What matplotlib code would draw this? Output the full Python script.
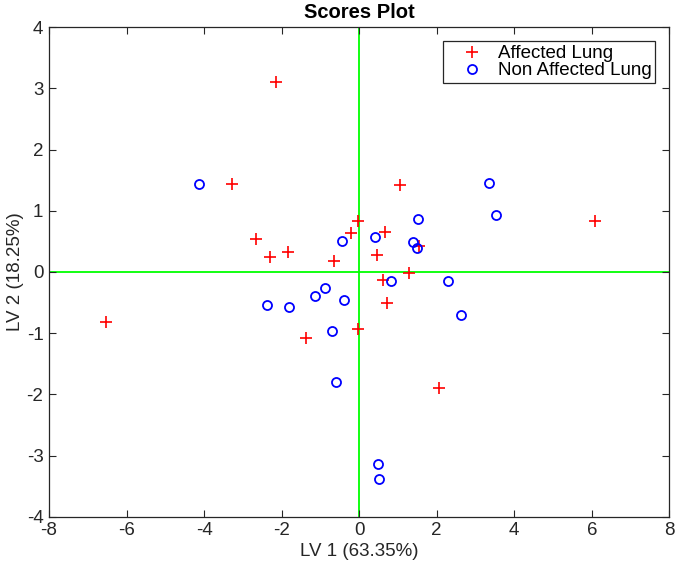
import matplotlib
matplotlib.use("Agg")
import matplotlib.pyplot as plt

plt.rcParams['font.family'] = ['Liberation Sans', 'DejaVu Sans']

affected_x = [-2.14, -3.27, -2.65, -2.31, -1.84, -0.66, -0.20, -0.04, 1.06, 6.07,
              0.67, 1.54, 0.45, 1.29, 0.61, 0.71, -0.03, 2.05, -6.54, -1.36]
affected_y = [3.10, 1.435, 0.547, 0.25, 0.33, 0.18, 0.63, 0.83, 1.42, 0.835,
              0.65, 0.42, 0.27, -0.01, -0.125, -0.50, -0.94, -1.90, -0.81, -1.08]

non_x = [-4.12, -0.44, 3.36, 3.54, 0.40, 1.51, 1.40, 1.48, 0.81, 2.28,
         -0.40, 2.62, 0.49, 0.52, -2.39, -1.80, -0.89, -1.13, -0.70, -0.61]
non_y = [1.44, 0.51, 1.46, 0.93, 0.58, 0.86, 0.486, 0.39, -0.15, -0.15,
         -0.45, -0.71, -3.14, -3.39, -0.545, -0.57, -0.26, -0.40, -0.965, -1.805]

x_ticks = [-8, -6, -4, -2, 0, 2, 4, 6, 8]
y_ticks = [-4, -3, -2, -1, 0, 1, 2, 3, 4]

fig = plt.figure(figsize=(6.75, 5.66), dpi=100)
ax = fig.add_axes([0.0726, 0.0871, 0.919, 0.8647])

ax.axvline(0, color='#00ff00', lw=1.3, zorder=1)
ax.axhline(0, color='#00ff00', lw=1.3, zorder=1)

ax.plot(affected_x, affected_y, linestyle='none', marker='+', color='red',
        markersize=9, markeredgewidth=1.2, label='Affected Lung', zorder=3)
ax.plot(non_x, non_y, linestyle='none', marker='o', markerfacecolor='none',
        markeredgecolor='blue', markersize=6.5, markeredgewidth=1.3,
        label='Non Affected Lung', zorder=3)

ax.set_xlim(-8, 8)
ax.set_ylim(-4, 4)
ax.set_xticks(x_ticks)
ax.set_yticks(y_ticks)
ax.set_xticklabels([str(t) for t in x_ticks])
ax.set_yticklabels([str(t) for t in y_ticks])
ax.tick_params(direction='in', top=True, right=True, length=5, width=0.8,
               labelsize=13.5, colors='#262626', pad=4)
for s in ax.spines.values():
    s.set_color('#262626')
    s.set_linewidth(0.9)

ax.set_xlabel('LV 1 (63.35%)', fontsize=13.5, color='#262626', labelpad=3)
ax.set_ylabel('LV 2 (18.25%)', fontsize=13.5, color='#262626', labelpad=2)
ax.set_title('Scores Plot', fontsize=14.5, fontweight='bold', pad=6.5)

leg = ax.legend(loc='upper right', fontsize=13.5, fancybox=False, framealpha=1,
                edgecolor='#262626', borderpad=0.2, handletextpad=0.1,
                labelspacing=0.0, borderaxespad=0.75, handlelength=2.6)
leg.get_frame().set_linewidth(0.9)

fig.savefig('out.png', dpi=100)
